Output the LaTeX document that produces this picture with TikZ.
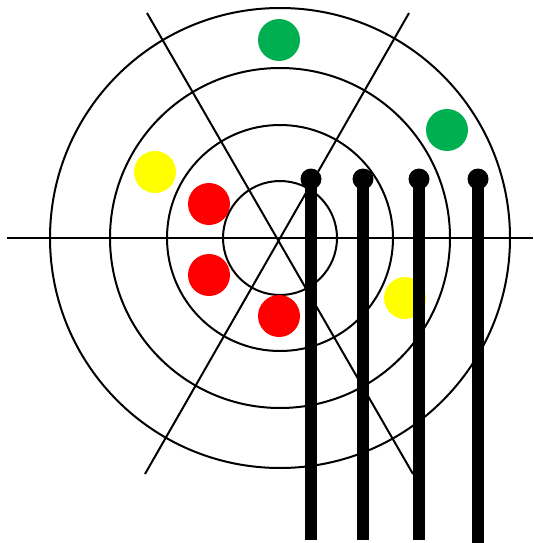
\documentclass[tikz,border=0pt]{standalone}
\definecolor{vert}{RGB}{0,176,80}
\definecolor{jaune}{RGB}{255,255,0}
\definecolor{rouge}{RGB}{255,0,0}
\usepackage{tikz}
\usetikzlibrary{positioning}

\begin{document}
\begin{tikzpicture}[x=1pt,y=-1pt,
		pion/.style={circle,inner sep=0pt,minimum size=42pt},
		tete/.style={circle,fill=black,inner sep=0pt,minimum size=21pt},
		trait/.style={black,line width=2pt},
		barre/.style={black,line width=12pt}]
	\useasboundingbox (0,0) rectangle (533,543);
	\coordinate (centre) at (280,238);
	% cibles
	\foreach \r in {57,113,170,230}
	\draw[trait] (centre) circle[radius=\r pt];
	\coordinate (g) at (7,238);
	\coordinate (d) at (533,238);
	\coordinate (hg) at (147,13);
	\coordinate (bd) at (413,474);
	\coordinate (hd) at (409,13);
	\coordinate (bg) at (145,474);
	\draw[trait] (g)--(d);
	\draw[trait] (hg)--(bd);
	\draw[trait] (hd)--(bg);
	
	% pions
	\node[pion,fill=vert] (v1) at (279,40) {};
	\node[pion,fill=vert] (v2) at (447,130) {};
	\node[pion,fill=jaune] (j1) at (155,172) {};
	\node[pion,fill=jaune] (j2) at (405,298) {};
	\node[pion,fill=rouge] (r1) at (209,204) {};
	\node[pion,fill=rouge] (r2) at (209,275) {};
	\node[pion,fill=rouge] (r3) at (279,316) {};
	
	% barres
	\foreach \i/\x/\y in {1/311/540,2/363/540,3/419/540,4/478/543}{
		\node[tete] (t\i) at (\x,179) {};
		\coordinate (p\i) at (\x,\y);
		\draw[barre] (t\i.center)--(p\i);
	}
\end{tikzpicture}
\end{document}
